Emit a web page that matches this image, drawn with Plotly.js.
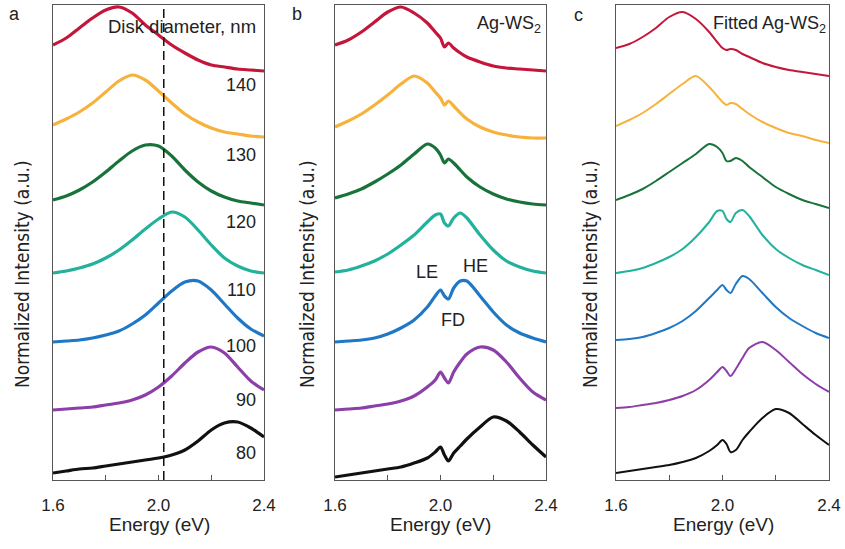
<!DOCTYPE html>
<html><head><meta charset="utf-8">
<script src="https://cdn.plot.ly/plotly-3.0.1.min.js"></script>
<style>html,body{margin:0;padding:0;background:#fff}#chart{width:845px;height:549px}</style>
</head><body><div id="chart"></div>
<script>
// Energy grids (eV)
const energyA = [1.60,1.65,1.70,1.75,1.80,1.85,1.90,1.95,2.00,2.05,2.10,2.15,2.20,2.25,2.30,2.35,2.40];
const energyBC = [1.60,1.65,1.70,1.75,1.80,1.85,1.90,1.95,1.98,2.00,2.015,2.03,2.05,2.075,2.10,2.15,2.20,2.25,2.30,2.35,2.40];
const diameters = ['140','130','120','110','100','90','80'];
const seriesColors = ['#C4163A','#F7B23B','#17733A','#22B29C','#1E78C6','#8C3FA8','#111111'];

// Panel a: disk only (offset normalized intensity, a.u.)
const a140 = [435,442,452,462,470,473,467,455,445,435,427,420,415,413,411,410,409];
const a130 = [355,361,368,377,388,399,405,400,389,377,366,358,352,348,346,344,343];
const a120 = [280,284,290,298,308,319,329,335,334,324,310,298,289,283,279,277,275];
const a110 = [207,209,212,216,222,230,240,251,261,268,263,250,235,222,214,209,207];
const a100 = [138,139,140,142,145,149,156,165,177,189,198,199,190,176,162,151,144];
const a90  = [70,71,72,73,75,77,80,85,93,104,117,128,133,127,113,99,90];
const a80  = [7,9,11,12,14,16,18,20,22,25,30,39,50,57,58,52,43];

// Panel b: Ag-WS2 measured
const b140 = [435,440,448,458,468,473,467,457,448,442,433,437,432,427,423,418,414,412,411,410,409];
const b130 = [353,359,366,375,385,396,404,397,388,382,375,379,374,367,361,353,348,345,343,342,342];
const b120 = [282,286,291,298,306,315,326,336,332,325,317,321,317,310,303,293,286,281,278,276,275];
const b110 = [208,210,214,219,226,235,245,258,265,266,257,254,262,267,262,245,230,219,213,209,207];
const b100 = [138,139,140,142,146,152,160,173,184,190,184,181,192,199,199,184,168,155,147,142,138];
const b90  = [70,71,72,74,76,79,84,93,100,108,102,97,108,118,126,133,130,118,102,88,80];
const b80  = [3,5,7,9,11,13,17,22,28,33,25,19,27,34,41,53,63,59,48,35,23];

// Panel c: fitted Ag-WS2
const c140 = [432,436,443,452,463,468,461,448,438,432,430,431,430,426,423,417,413,410,408,406,404];
const c130 = [354,360,367,376,386,396,404,393,384,378,375,377,376,371,366,358,352,347,344,340,337];
const c120 = [280,285,291,299,308,317,326,336,333,327,319,319,322,319,313,303,293,286,280,276,272];
const c110 = [207,209,212,217,223,231,243,258,269,269,261,258,267,270,264,245,231,222,215,210,205];
const c100 = [140,141,143,147,152,159,169,182,190,195,190,187,196,204,201,187,173,162,154,147,142];
const c90  = [72,73,75,77,80,84,90,100,108,113,109,104,111,122,132,138,130,118,106,96,88];
const c80  = [7,9,11,13,15,18,22,29,35,40,36,28,30,40,48,62,71,67,56,45,35];

const panels = [
  {x: energyA, ys: [a140,a130,a120,a110,a100,a90,a80], w: 3.2},
  {x: energyBC, ys: [b140,b130,b120,b110,b100,b90,b80], w: 3.2},
  {x: energyBC, ys: [c140,c130,c120,c110,c100,c90,c80], w: 2}
];

const traces = [];
panels.forEach((p, pi) => {
  p.ys.forEach((y, i) => {
    traces.push({
      x: p.x, y: y, type: 'scatter', mode: 'lines',
      name: diameters[i] + ' nm',
      line: {color: seriesColors[i], width: p.w, shape: 'spline', smoothing: 0.8},
      xaxis: 'x' + (pi === 0 ? '' : pi + 1),
      yaxis: 'y' + (pi === 0 ? '' : pi + 1),
      showlegend: false, hoverinfo: 'skip'
    });
  });
});

const W = 845, H = 549;
const px = v => v / W, py = v => (H - v) / H;
const yDom = [py(480), py(5)];
const xDoms = [[px(53), px(264)], [px(335), px(546)], [px(616), px(829)]];
const FAM = 'Liberation Sans, Arial, sans-serif';
const font = {family: FAM, color: '#222', size: 18};

function xax(d) {
  return {domain: d, range: [1.6, 2.4], tickmode: 'linear', tick0: 1.6, dtick: 0.4, tickformat: '.1f',
    ticks: 'inside', ticklen: 5, tickcolor: '#555',
    minor: {tickmode: 'linear', tick0: 1.6, dtick: 0.2, ticks: 'inside', ticklen: 5, tickcolor: '#555', showgrid: false},
    showline: true, linecolor: '#555', linewidth: 1.3,
    mirror: true, showgrid: false, zeroline: false, tickfont: {family: FAM, size: 17, color: '#222'},
    ticklabelstandoff: 9, fixedrange: true};
}
function yax(d, anchor) {
  return {domain: d, range: [0, 475], showticklabels: false, ticks: '', showline: true, linecolor: '#555',
    linewidth: 1.3, mirror: true, showgrid: false, zeroline: false, anchor: anchor, fixedrange: true};
}

const ann = [];
function txt(x, y, text, opts) {
  ann.push(Object.assign({xref: 'paper', yref: 'paper', x: px(x), y: py(y), text: text, showarrow: false,
    font: font, xanchor: 'center', yanchor: 'middle'}, opts || {}));
}
txt(14, 14, 'a'); txt(297, 14, 'b'); txt(578, 15, 'c');
[22, 307, 590].forEach(x => txt(x, 274, 'Normalized Intensity (a.u.)', {textangle: -90,
  font: {family: 'Liberation Sans Narrow, DejaVu Sans Condensed, Liberation Sans, sans-serif', size: 19, color: '#222'}}));
[159, 441, 723].forEach(x => txt(x, 524, 'Energy (eV)', {font: {family: FAM, size: 19, color: '#222'}}));
txt(258, 26, 'Disk diameter, nm', {xanchor: 'right', font: {family: FAM, size: 18.5, color: '#222'}});
const labelY = [85, 155, 222, 290, 346, 400, 453];
diameters.forEach((d, i) => txt(258, labelY[i], d, {xanchor: 'right'}));
txt(543, 24, 'Ag-WS<sub>2</sub>', {xanchor: 'right'});
txt(828, 24, 'Fitted Ag-WS<sub>2</sub>', {xanchor: 'right'});
txt(427, 272, 'LE'); txt(475, 266, 'HE'); txt(453, 320, 'FD');

const layout = {
  width: W, height: H, margin: {l: 0, r: 0, t: 0, b: 0},
  paper_bgcolor: '#fff', plot_bgcolor: '#fff', font: font, showlegend: false,
  xaxis: xax(xDoms[0]), xaxis2: xax(xDoms[1]), xaxis3: xax(xDoms[2]),
  yaxis: yax(yDom, 'x'), yaxis2: yax(yDom, 'x2'), yaxis3: yax(yDom, 'x3'),
  annotations: ann,
  shapes: [{type: 'line', xref: 'x', yref: 'paper', x0: 2.02, x1: 2.02, y0: yDom[0], y1: yDom[1],
    line: {color: '#111', width: 1.5, dash: '9px,5px'}}]
};
layout.xaxis2.anchor = 'y2'; layout.xaxis3.anchor = 'y3';
Plotly.newPlot('chart', traces, layout, {staticPlot: true, displayModeBar: false});
</script></body></html>
